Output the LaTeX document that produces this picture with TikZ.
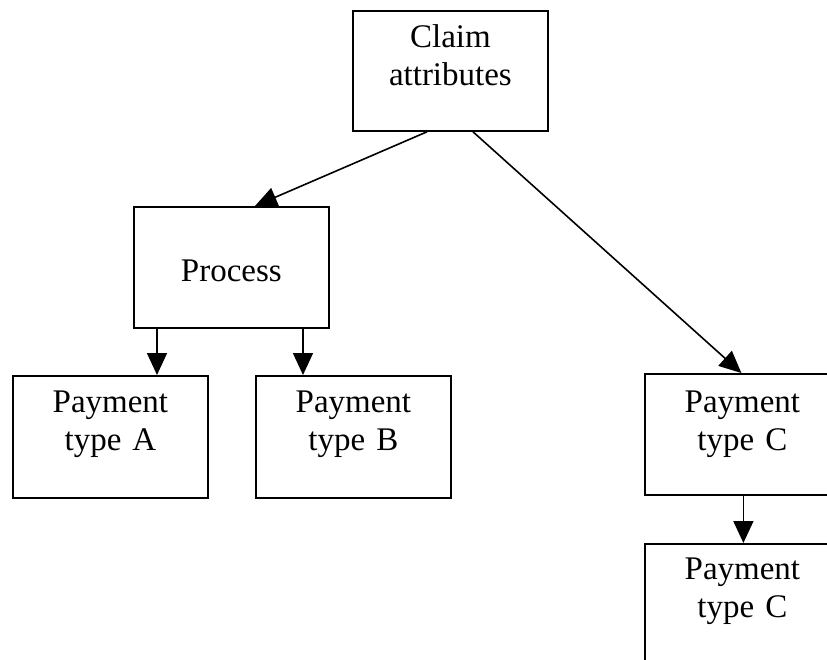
\documentclass[tikz,border=0pt]{standalone}
\usepackage{fontspec}
\setmainfont{Liberation Serif}
\usetikzlibrary{arrows.meta}
\begin{document}
\begin{tikzpicture}[x=0.5pt,y=-0.5pt,
  box/.style={draw, line width=0.9pt, rectangle, inner xsep=0pt, inner ysep=0pt,
    text width=97.5pt, align=center, anchor=north west,
    font=\fontsize{16.5}{19}\selectfont},
  arr/.style={line width=0.8pt, -{Triangle[length=11pt,width=10pt]}}]
\useasboundingbox[fill=white] (0,0) rectangle (827,660);

% boxes (text height = first baseline below the top edge)
\node[box, text height=18.5pt, text depth=41.5pt] (claim) at (352,10) {Claim\\attributes};
\node[box, text height=37.5pt, text depth=23pt]   (proc)  at (133,206) {Process};
\node[box, text height=18.5pt, text depth=42.5pt] (payA)  at (12,375)  {Payment\\type A};
\node[box, text height=18.5pt, text depth=42.5pt] (payB)  at (255,375) {Payment\\type B};
\node[box, text height=19.5pt, text depth=41pt]   (payC)  at (644,373) {Payment\\type C};
\node[box, text height=18pt,   text depth=43pt]   (payCC) at (644,543) {Payment\\type C};

% connectors
\draw[arr] ([xshift=37.5pt]claim.south west) -- ([xshift=61pt]proc.north west);
\draw[arr] ([xshift=60.5pt]claim.south west) -- ([xshift=-0.5pt]payC.north);
\draw[arr] ([xshift=12pt]proc.south west) -- ([xshift=12pt]proc.south west |- payA.north);
\draw[arr] ([xshift=85pt]proc.south west) -- ([xshift=85pt]proc.south west |- payB.north);
\draw[arr] ([xshift=0.5pt]payC.south) -- ([xshift=0.5pt]payC.south |- payCC.north);
\end{tikzpicture}
\end{document}
